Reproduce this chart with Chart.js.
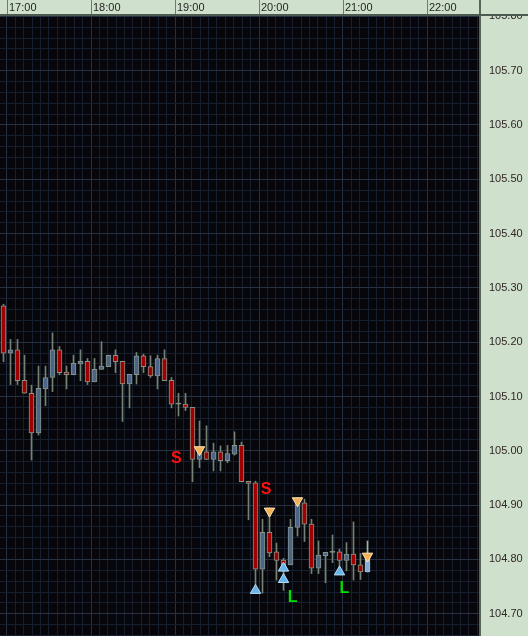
<!DOCTYPE html>
<html>
<head>
<meta charset="utf-8">
<script src="https://cdn.jsdelivr.net/npm/chart.js@4.4.0/dist/chart.umd.min.js"></script>
<style>
  html, body { margin: 0; padding: 0; background: #cfe0cc; }
  canvas { display: block; }
</style>
</head>
<body>
<canvas id="myChart" width="528" height="636"></canvas>
<script>
// 5 minute bars, start time of each bar
const times = ['16:55',
  '17:00','17:05','17:10','17:15','17:20','17:25','17:30','17:35','17:40','17:45','17:50','17:55',
  '18:00','18:05','18:10','18:15','18:20','18:25','18:30','18:35','18:40','18:45','18:50','18:55',
  '19:00','19:05','19:10','19:15','19:20','19:25','19:30','19:35','19:40','19:45','19:50','19:55',
  '20:00','20:05','20:10','20:15','20:20','20:25','20:30','20:35','20:40','20:45','20:50','20:55',
  '21:00','21:05','21:10','21:15'];

const open = [105.267, 105.180, 105.186, 105.130, 105.106, 105.033, 105.114, 105.135, 105.186, 105.145,
  105.140, 105.160, 105.165, 105.127, 105.150, 105.155, 105.176, 105.165, 105.123, 105.140,
  105.175, 105.155, 105.138, 105.170, 105.130, 105.086, 105.086, 105.080, 104.984, 104.998,
  104.984, 104.998, 104.982, 104.994, 105.010, 104.944, 104.941, 104.782, 104.850, 104.814,
  104.799, 104.790, 104.859, 104.904, 104.865, 104.784, 104.807, 104.813, 104.814, 104.798,
  104.810, 104.790, 104.777];
const high = [105.270, 105.205, 105.205, 105.176, 105.121, 105.156, 105.156, 105.217, 105.192, 105.156,
  105.176, 105.186, 105.170, 105.170, 105.201, 105.176, 105.186, 105.165, 105.141, 105.181,
  105.178, 105.175, 105.176, 105.186, 105.135, 105.106, 105.106, 105.080, 105.055, 105.046,
  105.014, 105.009, 105.010, 105.035, 105.016, 104.944, 104.944, 104.874, 104.895, 104.830,
  104.802, 104.874, 104.914, 104.911, 104.874, 104.834, 104.813, 104.845, 104.819, 104.831,
  104.869, 104.811, 104.834];
const low = [105.164, 105.122, 105.122, 105.106, 104.983, 105.029, 105.083, 105.109, 105.140, 105.114,
  105.140, 105.129, 105.122, 105.127, 105.150, 105.155, 105.144, 105.054, 105.079, 105.123,
  105.144, 105.135, 105.114, 105.129, 105.079, 105.064, 105.074, 104.943, 104.969, 104.984,
  104.963, 104.963, 104.978, 104.992, 104.943, 104.873, 104.741, 104.738, 104.805, 104.762,
  104.743, 104.790, 104.843, 104.833, 104.774, 104.774, 104.757, 104.794, 104.787, 104.779,
  104.762, 104.763, 104.777];
const close = [105.180, 105.186, 105.129, 105.106, 105.033, 105.115, 105.135, 105.186, 105.144, 105.140,
  105.161, 105.165, 105.127, 105.150, 105.156, 105.176, 105.164, 105.123, 105.141, 105.175,
  105.155, 105.138, 105.170, 105.129, 105.086, 105.086, 105.080, 104.984, 104.998, 104.984,
  104.998, 104.982, 104.995, 105.010, 104.943, 104.940, 104.782, 104.850, 104.812, 104.798,
  104.790, 104.859, 104.904, 104.865, 104.784, 104.808, 104.813, 104.813, 104.798, 104.810,
  104.790, 104.777, 104.811];

// signal markers (bar time, price)
const sellTime = ['19:15', '20:05', '20:25', '21:15'];
const sellPrice = [105.002, 104.889, 104.908, 104.806];
const buyTime = ['19:55', '20:15', '20:15', '20:55'];
const buyPrice = [104.743, 104.784, 104.763, 104.777];

// S / L letters
const noteText = ['S', 'S', 'L', 'L'];
const noteTime = ['19:01', '20:05', '20:24', '21:01'];
const notePrice = [104.985, 104.929, 104.730, 104.747];

const hourLabels = ['17:00', '18:00', '19:00', '20:00', '21:00', '22:00'];

// minutes after 17:00
const toMin = s => {
  const [h, m] = s.split(':').map(Number);
  return h * 60 + m - 17 * 60;
};
const barMid = s => toMin(s) + 2.5;

const bodies = times.map((t, i) => ({ x: barMid(t), y: [open[i], close[i]] }));
const wicks = times.map((t, i) => ({ x: barMid(t), y: [low[i], high[i]] }));
const sells = sellTime.map((t, i) => ({ x: barMid(t), y: sellPrice[i] }));
const buys = buyTime.map((t, i) => ({ x: barMid(t), y: buyPrice[i] }));

const last = times.length - 1;
const minorGrid = '#161f2e';
const majorGrid = '#283142';
const isTenth = v => Math.abs(v * 10 - Math.round(v * 10)) < 1e-6;

const bodyFill = c => {
  const i = c.dataIndex;
  if (i === last) return '#82aadb';
  const d = close[i] - open[i];
  return d > 0 ? '#4a6587' : d < 0 ? '#a00000' : '#8a968a';
};

// fixed axis sizes, no extra padding from labels
const noPad = s => { s.paddingTop = 0; s.paddingBottom = 0; s.paddingLeft = 0; s.paddingRight = 0; };

const frame = {
  id: 'frame',
  beforeDraw(chart) {
    const { ctx, chartArea: a } = chart;
    ctx.save();
    ctx.fillStyle = '#07070b';
    ctx.fillRect(a.left, a.top, a.right - a.left, a.bottom - a.top);
    ctx.restore();
  },
  afterDatasetsDraw(chart) {
    const { ctx, scales: { x, y } } = chart;
    ctx.save();
    ctx.textAlign = 'center';
    ctx.textBaseline = 'middle';
    ctx.font = 'bold 16px "Liberation Sans", Arial, sans-serif';
    noteText.forEach((txt, i) => {
      ctx.fillStyle = txt === 'S' ? '#ff1010' : '#00e000';
      ctx.fillText(txt, x.getPixelForValue(toMin(noteTime[i])), y.getPixelForValue(notePrice[i]));
    });
    ctx.restore();
  },
  afterDraw(chart) {
    const { ctx, scales: { x, y } } = chart;
    const hb = x.bottom - 1;
    ctx.save();
    ctx.fillStyle = '#cfe0cc';
    ctx.fillRect(y.left, 0, chart.width - y.left, hb);
    ctx.strokeStyle = '#6c7c6e';
    ctx.lineWidth = 1;
    x.ticks.filter(t => t.value % 60 === 0).forEach(t => {
      const px = Math.round(x.getPixelForValue(t.value)) + 0.5;
      ctx.beginPath();
      ctx.moveTo(px, 0);
      ctx.lineTo(px, hb);
      ctx.stroke();
    });
    ctx.fillStyle = '#56645a';
    ctx.fillRect(y.left - 1, 0, 2, hb);
    ctx.fillStyle = '#4d5a4f';
    ctx.fillRect(0, hb, chart.width, 2);
    ctx.restore();
  }
};

new Chart(document.getElementById('myChart'), {
  type: 'bar',
  data: {
    datasets: [
      {
        type: 'scatter', data: sells, order: 0,
        pointStyle: 'triangle', pointRotation: 180, pointRadius: 6,
        pointBackgroundColor: '#f3b157', pointBorderColor: '#ffe4b8', pointBorderWidth: 1
      },
      {
        type: 'scatter', data: buys, order: 0,
        pointStyle: 'triangle', pointRotation: 0, pointRadius: 6,
        pointBackgroundColor: '#68b4ea', pointBorderColor: '#b4dcf8', pointBorderWidth: 1
      },
      {
        data: bodies, order: 1, grouped: false,
        barThickness: 5, minBarLength: 1,
        backgroundColor: bodyFill,
        borderColor: c => c.dataIndex === last ? '#a8bfd8' : '#87938a',
        borderWidth: 1, borderSkipped: false
      },
      {
        data: wicks, order: 2, grouped: false,
        barThickness: 1,
        backgroundColor: c => c.dataIndex === last ? '#a0b2a0' : '#748274',
        borderWidth: 0
      }
    ]
  },
  options: {
    responsive: false,
    animation: false,
    devicePixelRatio: 1,
    layout: { padding: 0, autoPadding: false },
    plugins: { legend: { display: false }, tooltip: { enabled: false } },
    scales: {
      x: {
        type: 'linear', position: 'top', min: -5, max: 473 / 1.4, offset: false,
        afterFit: s => { s.height = 15; noPad(s); },
        grid: {
          offset: false, drawTicks: false,
          color: c => c.tick && c.tick.value % 60 === 0 ? majorGrid : minorGrid
        },
        border: { display: false },
        ticks: {
          stepSize: 6, includeBounds: false, autoSkip: false, maxRotation: 0, minRotation: 0,
          align: 'start', labelOffset: 2, padding: 0, color: '#262626',
          font: { family: '"Liberation Sans", Arial, sans-serif', size: 11 },
          callback: v => v % 60 === 0 ? hourLabels[v / 60] : ''
        }
      },
      y: {
        type: 'linear', position: 'right', min: 104.659, max: 105.8025,
        afterFit: s => { s.width = 48; noPad(s); },
        grid: {
          drawTicks: false,
          color: c => c.tick && isTenth(c.tick.value) ? majorGrid : minorGrid
        },
        border: { display: true, color: '#56645a', width: 2 },
        ticks: {
          stepSize: 0.02, includeBounds: false, autoSkip: false, padding: 9,
          color: '#302626',
          font: { family: '"Liberation Sans", Arial, sans-serif', size: 11 },
          callback: v => isTenth(v) ? v.toFixed(2) : ''
        }
      }
    }
  },
  plugins: [frame]
});
</script>
</body>
</html>
